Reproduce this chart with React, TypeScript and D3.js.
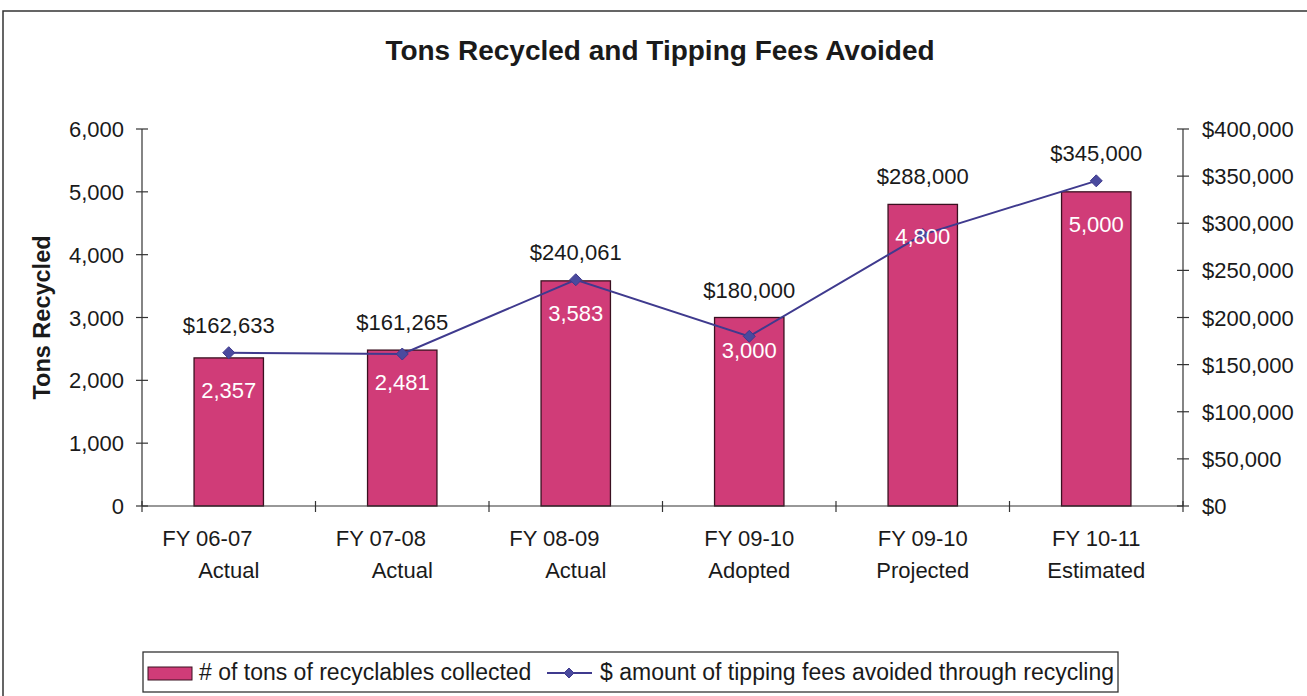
import React from 'react';
import { scaleBand, scaleLinear, line, format } from 'd3';

const categories = [
  ['FY 06-07\u00a0\u00a0\u00a0\u00a0\u00a0\u00a0\u00a0', 'Actual'],
  ['FY 07-08\u00a0\u00a0\u00a0\u00a0\u00a0\u00a0\u00a0', 'Actual'],
  ['FY 08-09\u00a0\u00a0\u00a0\u00a0\u00a0\u00a0\u00a0', 'Actual'],
  ['FY 09-10', 'Adopted'],
  ['FY 09-10', 'Projected'],
  ['FY 10-11', 'Estimated'],
];
const tons = [2357, 2481, 3583, 3000, 4800, 5000];
const fees = [162633, 161265, 240061, 180000, 288000, 345000];
const tonTicks = [0, 1000, 2000, 3000, 4000, 5000, 6000];
const feeTicks = [0, 50000, 100000, 150000, 200000, 250000, 300000, 350000, 400000];

const title = 'Tons Recycled and Tipping Fees Avoided';
const yTitle = 'Tons Recycled';
const barName = '# of tons of recyclables collected';
const lineName = '$ amount of tipping fees avoided through recycling';

const W = 1307;
const H = 696;
const FONT = '"Liberation Sans", Arial, sans-serif';
const BAR = '#d03c78';
const LINE = '#3f3a8e';

export default function App() {
  const left = 142, right = 1183, top = 129, bottom = 506;
  const idx = categories.map((_, i) => i);

  const x = scaleBand<number>().domain(idx).range([left, right]).paddingInner(0.6).paddingOuter(0.3);
  const yL = scaleLinear().domain([0, 6000]).range([bottom, top]);
  const yR = scaleLinear().domain([0, 400000]).range([bottom, top]);
  const step = x.step();
  const cx = (i: number) => (x(i) as number) + x.bandwidth() / 2;

  const fmt = format(',');
  const money = (v: number) => '$' + fmt(v);

  const path = line<number>()
    .x((_, i) => cx(i))
    .y(d => yR(d))(fees);

  const bounds = idx.map(i => left + i * step).concat([right]);

  const diamond = (px: number, py: number, r: number) =>
    `M${px},${py - r}L${px + r},${py}L${px},${py + r}L${px - r},${py}Z`;

  return (
    <svg width={W} height={H} style={{ position: 'absolute', left: 0, top: 0, background: '#fff' }} fontFamily={FONT}>
      <rect x={3} y={11} width={W + 10} height={H + 10} fill="#fff" stroke="#333" strokeWidth={1.5} />
      <text x={660} y={60} textAnchor="middle" fontSize={28} fontWeight="bold" fill="#1a1a1a">{title}</text>

      {/* left axis */}
      <line x1={left} x2={left} y1={top} y2={bottom} stroke="#333" strokeWidth={1.2} />
      {tonTicks.map(t => (
        <g key={'l' + t}>
          <line x1={left - 6} x2={left + 6} y1={yL(t)} y2={yL(t)} stroke="#333" strokeWidth={1.2} />
          <text x={124} y={yL(t) + 8} textAnchor="end" fontSize={22} fill="#1a1a1a">{fmt(t)}</text>
        </g>
      ))}
      <text transform={`translate(50,${(top + bottom) / 2}) rotate(-90)`} textAnchor="middle" fontSize={23.5} fontWeight="bold" fill="#1a1a1a">{yTitle}</text>

      {/* right axis */}
      <line x1={right} x2={right} y1={top} y2={bottom} stroke="#333" strokeWidth={1.2} />
      {feeTicks.map(t => (
        <g key={'r' + t}>
          <line x1={right - 6} x2={right + 6} y1={yR(t)} y2={yR(t)} stroke="#333" strokeWidth={1.2} />
          <text x={1202} y={yR(t) + 8} fontSize={22} fill="#1a1a1a">{money(t)}</text>
        </g>
      ))}

      {/* bars */}
      {tons.map((v, i) => (
        <rect key={'b' + i} x={x(i)} y={yL(v)} width={x.bandwidth()} height={bottom - yL(v)} fill={BAR} stroke="#3a1020" strokeWidth={1.3} />
      ))}

      {/* x axis */}
      <line x1={left} x2={right} y1={bottom} y2={bottom} stroke="#333" strokeWidth={1.2} />
      {bounds.map((b, i) => (
        <line key={'t' + i} x1={b} x2={b} y1={bottom - 5} y2={bottom + 6} stroke="#333" strokeWidth={1.2} />
      ))}
      {categories.map((c, i) => (
        <text key={'c' + i} textAnchor="middle" fontSize={22} fill="#1a1a1a" style={{ whiteSpace: 'pre' }}>
          <tspan x={cx(i)} y={546}>{c[0]}</tspan>
          <tspan x={cx(i)} y={578}>{c[1]}</tspan>
        </text>
      ))}

      {/* line series */}
      <path d={path as string} fill="none" stroke={LINE} strokeWidth={2} />
      {fees.map((v, i) => (
        <path key={'m' + i} d={diamond(cx(i), yR(v), 6)} fill="#4a4a9e" stroke={LINE} strokeWidth={1} />
      ))}

      {/* labels */}
      {tons.map((v, i) => (
        <text key={'bl' + i} x={cx(i)} y={yL(v) + 40} textAnchor="middle" fontSize={22} fill="#fff">{fmt(v)}</text>
      ))}
      {fees.map((v, i) => (
        <text key={'fl' + i} x={cx(i)} y={Math.min(yL(tons[i]), yR(v)) - 20} textAnchor="middle" fontSize={22} fill="#1a1a1a">{money(v)}</text>
      ))}

      {/* legend */}
      <rect x={143} y={652} width={975} height={40} fill="#fff" stroke="#333" strokeWidth={1.3} />
      <rect x={148} y={667} width={44} height={13} fill={BAR} stroke="#3a1020" strokeWidth={1} />
      <text x={199} y={680} fontSize={23} fill="#1a1a1a">{barName}</text>
      <line x1={547} x2={592} y1={673} y2={673} stroke={LINE} strokeWidth={2} />
      <path d={diamond(569, 673, 5)} fill="#4a4a9e" stroke={LINE} strokeWidth={1} />
      <text x={600} y={680} fontSize={23} fill="#1a1a1a">{lineName}</text>
    </svg>
  );
}
